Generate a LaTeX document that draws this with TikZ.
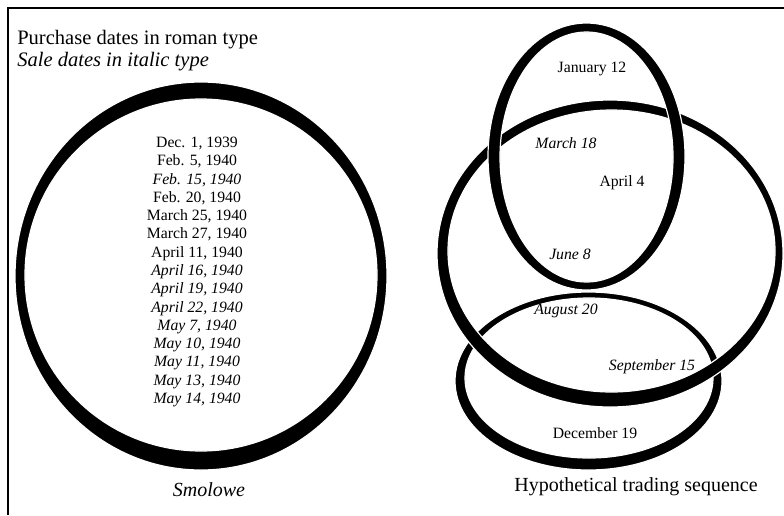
\documentclass[tikz,border=0pt]{standalone}
\usepackage{fontspec}
\setmainfont{Liberation Serif}
\usetikzlibrary{positioning}

\begin{document}
\begin{tikzpicture}[x=0.75pt, y=-0.75pt,
    ring/.style={fill=black, draw=white, line width=0.9pt, even odd rule},
    datefont/.style={font=\fontsize{11.8}{13.7}\selectfont, inner sep=0pt},
    capfont/.style={font=\fontsize{15}{18}\selectfont, inner sep=0pt}]
    \useasboundingbox (0,0) rectangle (784,515);
    \draw[line width=1.1pt] (8,515) -- (8,8) -- (784,8);
    % legend
    \node[capfont, font=\fontsize{15.4}{18}\selectfont, anchor=west] (roman) at (17,40) {Purchase dates in roman type};
    \node[capfont, font=\fontsize{15.4}{18}\selectfont, anchor=west] (italic) at (17,62) {\textit{Sale dates in italic type}};
    % Smolowe
    \fill[ring] (201,276) ellipse [x radius=186, y radius=194] (201,275) circle [radius=176];
    \node[datefont, align=center] (smolowedates) at (197,272) {Dec. 1, 1939\\ Feb. 5, 1940\\ \textit{Feb. 15, 1940}\\ Feb. 20, 1940\\
        March 25, 1940\\ March 27, 1940\\ April 11, 1940\\ \textit{April 16, 1940}\\ \textit{April 19, 1940}\\ \textit{April 22, 1940}\\
        \textit{May 7, 1940}\\ \textit{May 10, 1940}\\ \textit{May 11, 1940}\\ \textit{May 13, 1940}\\ \textit{May 14, 1940}};
    \node[capfont] (smolowe) at (209,490) {\textit{Smolowe}};
    % hypothetical sequence
    \fill[ring] (588.5,381) ellipse [x radius=133.5, y radius=89] (589,378) ellipse [x radius=124, y radius=80];
    \fill[ring] (610,253.5) ellipse [x radius=173, y radius=153.5] (611.5,251) ellipse [x radius=163.5, y radius=141];
    \fill[ring] (586.5,156.5) ellipse [x radius=98.5, y radius=133.5] (586.5,157) ellipse [x radius=86.5, y radius=125];
    \node[datefont] (jan) at (592,69) {January 12};
    \node[datefont] (mar) at (566,143) {\textit{March 18}};
    \node[datefont] (apr) at (622,183) {April 4};
    \node[datefont] (jun) at (570,254) {\textit{June 8}};
    \node[datefont] (aug) at (566,311) {\textit{August 20}};
    \node[datefont] (sep) at (652,367) {\textit{September 15}};
    \node[datefont] (dec) at (595,433) {December 19};
    \node[capfont] (hypo) at (636,487) {Hypothetical trading sequence};
\end{tikzpicture}
\end{document}
